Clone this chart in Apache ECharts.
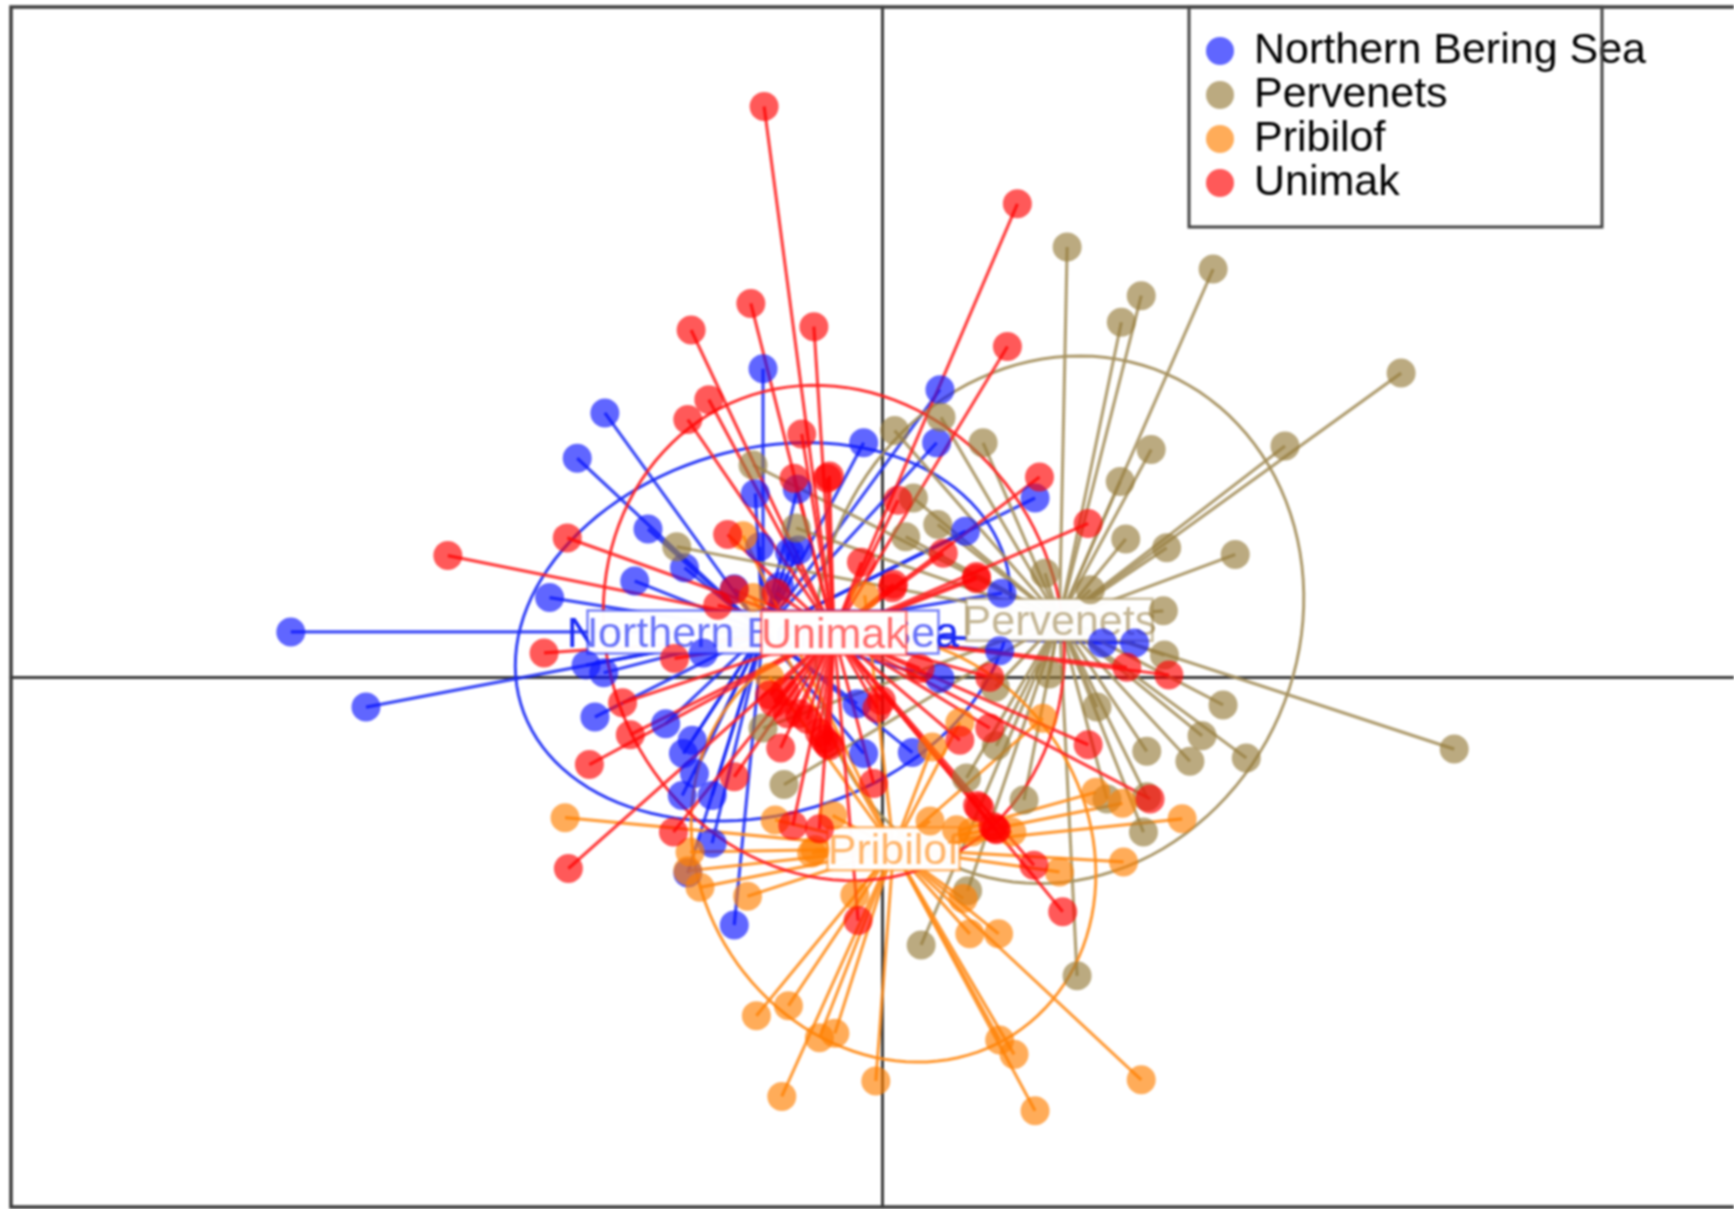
<!DOCTYPE html>
<html>
<head>
<meta charset="utf-8">
<title>Ordination by spawning group</title>
<style>
  html, body { margin: 0; padding: 0; background: #fff; }
  #chart { width: 1734px; height: 1209px; filter: blur(0.8px); }
</style>
<script src="https://cdn.jsdelivr.net/npm/echarts@6/dist/echarts.min.js"></script>
</head>
<body>
<div id="chart"></div>
<script>
// group names, in legend order
const groupNames = ['Northern Bering Sea', 'Pervenets', 'Pribilof', 'Unimak'];

// scores, [axis 1, axis 2]
const northernBering = [
  [-535, 41], [-467, -27], [-251, 239], [-276, 198], [-212, 134], [-224, 87], [-301, 72],
  [-179, 99], [-108, 279], [-115, 166], [-77, 170], [-111, 118], [-84, 113], [-76, 115],
  [-17, 212], [52, 260], [49, 212], [75, 132], [138, 162], [-134, 80], [-93, 82], [-162, 22],
  [-268, 11], [-252, 4], [-260, -36], [-196, -42], [-172, -57], [-180, -69], [-170, -87],
  [-181, -107], [-154, -107], [-154, -150], [-176, -177], [-134, -224], [-23, -24], [-17, -69],
  [27, -68], [52, -1], [106, 24], [108, 76], [199, 31], [228, 31]
];
const pervenets = [
  [167, 389], [299, 369], [234, 345], [216, 321], [469, 275], [364, 209], [243, 206],
  [215, 177], [91, 212], [53, 235], [11, 223], [-117, 192], [-78, 135], [28, 162], [50, 138],
  [21, 127], [220, 125], [257, 117], [319, 111], [-186, 118], [147, 94], [188, 79], [254, 60],
  [255, 20], [308, -25], [517, -65], [194, -27], [239, -67], [289, -53], [278, -76], [329, -73],
  [239, -108], [236, -140], [203, -110], [128, -111], [103, -62], [102, -9], [151, 3], [76, -91],
  [-89, -97], [-108, -46], [35, -242], [77, -193], [176, -270]
];
const pribilof = [
  [-287, -127], [-97, -129], [-45, -125], [-174, -158], [-176, -175], [-165, -190], [-122, -198],
  [-64, -159], [-61, -156], [-25, -197], [43, -130], [67, -138], [81, -140], [117, -140],
  [193, -104], [217, -114], [271, -128], [218, -167], [160, -176], [79, -232], [105, -232],
  [73, -200], [145, -37], [70, -41], [45, -63], [-114, -306], [-85, -297], [-57, -326],
  [-43, -322], [-91, -379], [-6, -365], [106, -328], [119, -341], [138, -392], [234, -364],
  [-16, 74], [-126, 128], [-117, 72], [-102, 0]
];
const unimak = [
  [-107, 516], [122, 428], [-119, 338], [-173, 314], [-62, 317], [113, 299], [-157, 251],
  [-176, 233], [-73, 220], [-80, 180], [-48, 182], [-50, 180], [142, 181], [14, 160], [186, 139],
  [-285, 126], [-393, 110], [-140, 129], [-19, 104], [55, 112], [85, 91], [85, 89], [9, 81], [10, 84],
  [-134, 79], [-149, 65], [-96, 76], [-306, 22], [-188, 17], [221, 9], [259, 2], [34, 8], [97, 0],
  [-235, -23], [-228, -52], [-265, -79], [-134, -90], [-92, -64], [-102, -16], [-98, -23], [-88, -13],
  [-75, -33], [-86, -33], [-68, -38], [-57, -50], [-53, -56], [-48, -62], [-50, -60], [-8, -96],
  [-1, -21], [-5, -28], [70, -57], [97, -46], [186, -61], [242, -110], [86, -116], [88, -118],
  [102, -137], [103, -138], [100, -135], [137, -170], [163, -212], [-189, -140], [-284, -173],
  [-81, -134], [-57, -137], [-22, -220]
];
const groupScores = [northernBering, pervenets, pribilof, unimak];

// group centroids, where the spokes meet and the labels sit
const groupCenters = [[-108, 41], [160, 52], [10, -155], [-44, 40]];

// ellipse semi axes and tilt in degrees
const ellipseAxes = [[228.5, 165, 16.6], [242.4, 216.7, 66.5], [200, 175.3, -57], [227.8, 204.3, -65.7]];

// styles
const groupColors = ['#0a14ff', '#967c3c', '#ff8000', '#ff0000'];
const lineColors = ['#1a2af5', '#a48f5c', '#ff8c1a', '#ff2020'];
const labelBoxes = [[351, 43], [186, 42], [132, 43], [145, 44]];
const FONT = '"Liberation Sans", Arial, sans-serif';

function spokeSeries(i) {
  return {
    name: groupNames[i] + ' spokes',
    type: 'custom',
    coordinateSystem: 'cartesian2d',
    silent: true,
    data: groupScores[i],
    encode: { x: 0, y: 1 },
    renderItem: function (params, api) {
      const from = api.coord(groupCenters[i]);
      const to = api.coord([api.value(0), api.value(1)]);
      return {
        type: 'line',
        shape: { x1: from[0], y1: from[1], x2: to[0], y2: to[1] },
        style: { stroke: lineColors[i], lineWidth: 3.2, opacity: 0.85 }
      };
    }
  };
}

function ellipseSeries(i) {
  return {
    name: groupNames[i] + ' ellipse',
    type: 'custom',
    coordinateSystem: 'cartesian2d',
    silent: true,
    data: [groupCenters[i]],
    encode: { x: 0, y: 1 },
    renderItem: function (params, api) {
      const cx = api.value(0), cy = api.value(1);
      const a = ellipseAxes[i][0], b = ellipseAxes[i][1];
      const th = ellipseAxes[i][2] * Math.PI / 180;
      const pts = [];
      for (let k = 0; k <= 120; k++) {
        const t = k / 120 * 2 * Math.PI;
        const u = a * Math.cos(t), v = b * Math.sin(t);
        pts.push(api.coord([cx + u * Math.cos(th) - v * Math.sin(th), cy + u * Math.sin(th) + v * Math.cos(th)]));
      }
      return {
        type: 'polyline',
        shape: { points: pts },
        style: { fill: 'none', stroke: lineColors[i], lineWidth: 3, opacity: 0.9 }
      };
    }
  };
}

function pointSeries(i) {
  return {
    name: groupNames[i],
    type: 'scatter',
    data: groupScores[i],
    symbol: 'circle',
    symbolSize: 29,
    silent: true,
    itemStyle: { color: groupColors[i], opacity: 0.65 }
  };
}

// label: strong text, white box over it, washed text on top
function labelSeries(i) {
  return {
    name: groupNames[i] + ' label',
    type: 'custom',
    coordinateSystem: 'cartesian2d',
    silent: true,
    data: [groupCenters[i]],
    encode: { x: 0, y: 1 },
    renderItem: function (params, api) {
      const c = api.coord([api.value(0), api.value(1)]);
      const w = labelBoxes[i][0], h = labelBoxes[i][1];
      const text = {
        x: c[0], y: c[1] + 3, text: groupNames[i], font: '43px ' + FONT,
        align: 'center', verticalAlign: 'middle'
      };
      return {
        type: 'group',
        children: [
          { type: 'text', style: Object.assign({ fill: lineColors[i] }, text) },
          {
            type: 'rect',
            shape: { x: c[0] - w / 2, y: c[1] - h / 2, width: w, height: h },
            style: { fill: '#fff', stroke: lineColors[i], lineWidth: 2.5, opacity: 0.98, strokeOpacity: 0.6 }
          },
          { type: 'text', style: Object.assign({ fill: lineColors[i], opacity: 0.65 }, text) }
        ]
      };
    }
  };
}

const series = [];
groupNames.forEach(function (n, i) {
  series.push(spokeSeries(i), ellipseSeries(i), pointSeries(i));
});
groupNames.forEach(function (n, i) {
  series.push(labelSeries(i));
});

const chart = echarts.init(document.getElementById('chart'), null, { renderer: 'canvas' });
chart.setOption({
  animation: false,
  backgroundColor: '#fff',
  grid: { left: 11, top: 7, right: 0, bottom: 2 },
  xAxis: {
    type: 'value',
    min: -788, max: 770,
    axisLine: { onZero: true, lineStyle: { color: '#3c3c3c', width: 3 } },
    axisTick: { show: false },
    axisLabel: { show: false },
    splitLine: { show: false }
  },
  yAxis: {
    type: 'value',
    min: -479, max: 606,
    axisLine: { onZero: true, lineStyle: { color: '#3c3c3c', width: 3 } },
    axisTick: { show: false },
    axisLabel: { show: false },
    splitLine: { show: false }
  },
  legend: {
    data: groupNames,
    orient: 'vertical',
    left: 1206, top: 29,
    padding: 0,
    itemWidth: 28, itemHeight: 28, itemGap: 0,
    icon: 'circle',
    selectedMode: false,
    textStyle: {
      color: '#000', fontFamily: FONT, fontSize: 43, lineHeight: 40,
      padding: [4, 0, 0, 15]
    }
  },
  graphic: [
    // plot frame, open on the right because the picture is cropped there
    {
      type: 'polyline',
      silent: true,
      z: 100,
      shape: { points: [[1750, 7], [11, 7], [11, 1207], [1750, 1207]] },
      style: { fill: 'none', stroke: '#3c3c3c', lineWidth: 3.5 }
    },
    // legend frame, the text runs past it in the original
    {
      type: 'rect',
      silent: true,
      z: 100,
      shape: { x: 1189, y: 7, width: 413, height: 220 },
      style: { fill: 'none', stroke: '#444', lineWidth: 3 }
    }
  ],
  series: series
});
window.addEventListener('resize', function () { chart.resize(); });
</script>
</body>
</html>
